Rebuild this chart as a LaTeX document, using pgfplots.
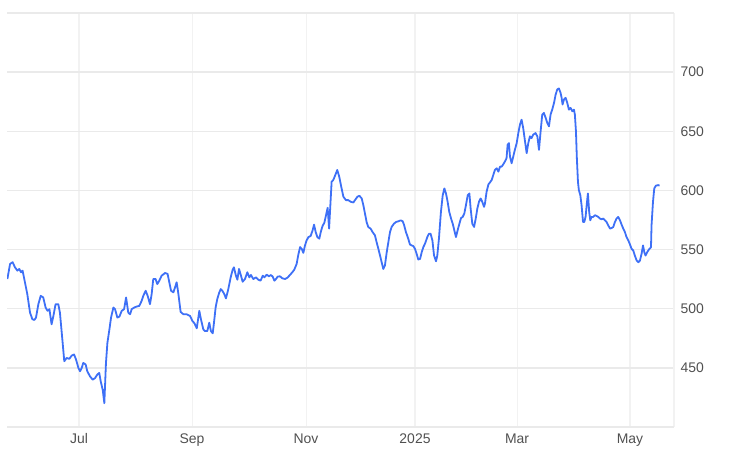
\documentclass[border=0pt]{standalone}
\usepackage{fontspec}
\setmainfont{Liberation Sans}
\usepackage{pgfplots}
\usepackage{pgfplotstable}
\pgfplotsset{compat=1.18}
\definecolor{linecol}{RGB}{62,112,246}
\definecolor{gridcol}{RGB}{234,234,234}
\definecolor{vgridcol}{RGB}{242,242,242}
\definecolor{labcol}{RGB}{80,80,80}
\pgfplotstableread{
d v
142.5 525.1
144.0 537.9
145.4 539.3
146.7 535.0
148.0 532.2
149.1 533.6
150.0 530.8
150.9 532.2
152.2 522.3
153.5 512.3
155.0 496.7
156.3 491.1
157.4 490.5
158.3 492.5
159.6 503.8
160.9 510.9
162.3 509.5
163.6 501.0
164.7 498.2
165.7 499.6
166.9 486.8
167.9 493.9
169.1 503.8
170.6 503.8
171.5 496.7
173.0 471.2
173.9 455.6
175.2 458.4
176.7 457.6
178.0 460.4
179.3 461.3
180.4 457.0
181.7 449.9
182.6 447.1
183.5 449.9
184.4 454.2
185.7 452.8
186.6 447.1
188.1 442.8
189.6 440.0
190.9 441.4
192.1 444.3
193.2 445.7
194.0 438.6
195.1 431.5
196.0 420.1
196.9 454.2
197.7 471.2
198.8 482.5
199.7 492.5
201.0 501.0
201.9 499.6
203.2 492.5
204.3 493.3
205.6 498.2
206.9 499.6
208.0 509.5
209.2 496.7
210.2 495.3
211.1 499.6
212.5 501.0
213.8 501.8
215.3 502.4
216.6 506.7
217.5 510.9
218.8 515.2
219.9 510.9
221.2 503.8
222.1 512.3
223.0 525.1
224.3 525.1
225.2 520.8
226.3 523.6
227.6 527.9
229.5 530.2
230.9 529.4
232.8 515.2
234.1 513.8
235.9 522.3
236.8 513.2
238.1 497.3
239.6 495.3
241.4 495.3
243.3 493.9
244.6 489.6
245.7 487.7
247.0 483.4
248.4 498.2
249.3 491.1
250.6 482.6
251.5 481.1
252.8 481.1
253.9 488.2
254.8 481.1
255.8 479.2
256.5 488.2
257.4 501.0
258.3 508.1
259.3 513.2
260.2 516.6
261.1 515.2
262.2 512.3
263.1 508.7
264.4 516.6
265.7 526.5
266.8 533.0
267.5 535.0
268.5 528.5
269.4 524.5
270.3 533.6
271.4 527.9
272.3 522.8
273.6 525.1
274.9 530.8
276.0 526.5
276.9 528.5
278.2 525.1
279.7 526.5
281.0 524.5
282.2 523.7
283.4 527.9
284.3 526.5
285.6 528.8
286.8 527.4
287.9 528.5
288.9 527.1
289.8 523.7
290.7 525.1
291.6 527.1
292.9 527.4
294.2 525.7
295.7 525.1
297.0 526.2
298.4 528.5
299.7 530.8
300.8 533.0
302.1 537.9
303.0 545.5
304.0 552.1
304.9 550.6
305.8 547.2
306.7 553.5
307.6 557.7
308.6 560.6
309.8 561.4
310.9 566.2
311.7 571.1
312.6 564.8
313.5 560.6
314.6 559.2
315.5 565.4
316.4 569.9
317.4 572.8
318.3 579.0
319.2 585.3
320.0 567.7
321.4 607.4
322.3 608.8
322.7 610.2
323.8 614.5
324.5 617.3
325.6 611.6
326.9 601.7
327.9 594.6
329.3 591.8
330.6 591.8
331.9 590.4
333.4 589.8
334.3 591.8
335.6 594.6
336.7 595.5
338.0 593.2
338.9 587.5
339.8 580.4
340.7 573.3
341.6 569.1
342.9 567.7
344.0 564.8
345.3 562.0
346.2 556.3
347.2 550.6
348.1 545.0
349.0 539.3
349.9 533.6
350.8 536.5
351.8 547.8
352.7 556.3
353.6 564.8
354.5 569.1
355.8 571.9
356.9 573.3
358.2 573.9
359.5 574.7
360.6 573.9
361.3 571.1
362.4 564.8
363.7 559.1
364.6 554.3
365.6 553.5
366.5 552.9
367.4 550.6
368.3 546.4
369.2 541.6
370.2 542.1
371.1 547.8
372.0 552.1
372.9 554.9
374.2 560.6
375.1 563.4
376.0 563.4
377.0 557.7
377.9 545.0
379.0 540.1
379.7 545.0
380.6 559.1
381.7 581.8
382.7 596.0
383.6 601.7
384.5 597.4
385.4 590.4
386.3 581.8
387.3 576.2
388.2 571.9
389.1 566.2
390.0 560.6
390.9 566.2
391.9 571.9
392.8 576.7
393.7 577.6
394.6 580.4
395.5 587.5
396.5 596.0
397.4 597.4
398.1 584.7
399.0 571.9
400.0 569.1
400.9 576.2
401.8 584.7
402.7 590.4
403.6 593.2
404.5 590.4
405.5 586.1
406.0 589.0
406.9 598.9
407.9 605.1
408.8 606.8
409.7 608.8
410.6 613.1
411.5 617.3
412.5 618.7
413.4 615.9
414.3 620.1
415.2 620.1
416.1 622.1
417.0 624.4
417.9 627.2
418.5 638.6
419.2 640.0
419.8 628.6
420.7 623.0
421.6 628.6
422.5 634.3
423.5 640.0
424.4 648.5
425.3 655.6
426.2 659.8
427.1 652.7
428.1 641.4
429.0 631.5
429.9 640.0
430.8 645.7
431.7 644.2
432.6 647.1
433.9 648.5
434.9 645.7
435.8 634.3
436.7 649.9
437.6 664.1
438.5 665.5
439.5 661.3
440.4 657.0
441.3 654.2
442.2 664.1
443.1 668.3
444.1 674.0
445.0 681.1
445.9 685.4
446.8 686.2
447.7 682.5
448.3 678.3
448.8 672.6
449.6 676.9
450.5 678.3
451.4 674.0
452.3 668.3
453.2 669.8
454.2 666.9
455.1 668.3
455.6 664.1
456.2 649.9
456.7 627.2
457.3 607.4
457.8 600.3
458.6 596.0
459.3 587.5
460.1 573.3
460.8 573.3
461.5 577.6
462.3 590.4
462.8 597.4
463.5 581.8
464.1 574.7
464.8 577.6
465.7 577.6
466.7 579.0
467.6 578.4
468.5 577.6
469.4 576.2
470.3 575.6
471.3 576.2
472.2 574.7
473.1 573.3
474.0 570.5
475.0 567.7
475.9 568.2
476.8 569.1
477.7 573.3
478.6 576.2
479.5 577.6
480.5 574.7
481.4 571.0
482.3 567.7
483.2 564.8
484.1 560.6
485.1 557.7
486.0 554.3
486.9 550.6
487.8 549.2
488.7 544.9
489.7 540.7
490.6 539.3
491.5 540.7
492.4 546.4
493.2 553.5
493.9 547.8
494.6 544.9
495.5 547.8
496.5 550.1
497.6 552.0
497.9 570.5
498.7 590.4
499.4 601.7
500.3 604.0
501.6 604.5
502.3 604.0
}\pricedata
\begin{document}
\begin{tikzpicture}[x=1bp,y=1bp]
\path[use as bounding box] (0,0) rectangle (734,458);
\begin{axis}[
  at={(7bp,31bp)}, anchor=south west,
  scale only axis, width=667bp, height=414bp,
  xmin=142.3, xmax=510.3, ymin=400, ymax=750,
  axis line style={draw=none},
  major tick length=0pt,
  xtick={182,244.4,307.3,367.4,423.7,486},
  xticklabels={Jul,Sep,Nov,2025,Mar,May},
  ytick={450,500,550,600,650,700},
  extra y ticks={400,750},
  extra y tick labels={},
  extra y tick style={grid style={gridcol, line width=1.3bp}},
  extra x ticks={510.3},
  extra x tick labels={},
  extra x tick style={grid style={gridcol, line width=1.1bp}},
  yticklabel pos=right,
  xmajorgrids, ymajorgrids,
  x grid style={vgridcol, line width=1.1bp},
  y grid style={gridcol, line width=1.3bp},
  tick label style={font=\fontsize{14}{14}\selectfont, text=labcol},
  yticklabel style={xshift=3bp},
  xticklabel style={yshift=-3bp},
  /pgf/number format/assume math mode=true,
]
\addplot[linecol, line width=1.8bp, line join=round, no markers] table[x=d, y=v] {\pricedata};
\end{axis}
\end{tikzpicture}
\end{document}
